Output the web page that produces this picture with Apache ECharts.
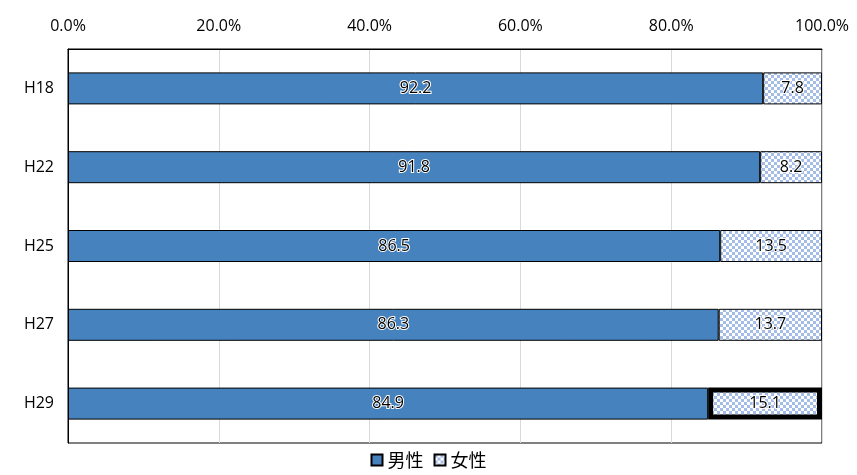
<!DOCTYPE html>
<html>
<head>
<meta charset="utf-8">
<script src="https://cdn.jsdelivr.net/npm/echarts@6/dist/echarts.min.js"></script>
<style>
html,body{margin:0;padding:0;background:#fff;}
#main{width:857px;height:475px;}
</style>
</head>
<body>
<div id="main"></div>
<script>
var years = ['H18', 'H22', 'H25', 'H27', 'H29'];
var male = [92.2, 91.8, 86.5, 86.3, 84.9];
var female = [7.8, 8.2, 13.5, 13.7, 15.1];
var xTicks = [0, 20, 40, 60, 80, 100];

// 女性の市松模様
function checker() {
	var c = document.createElement('canvas');
	c.width = 6; c.height = 6;
	var ctx = c.getContext('2d');
	ctx.fillStyle = '#ffffff';
	ctx.fillRect(0, 0, 6, 6);
	ctx.fillStyle = '#a3bde8';
	ctx.fillRect(0, 0, 3, 3);
	ctx.fillRect(3, 3, 3, 3);
	return c;
}
var pat = { image: checker(), repeat: 'repeat' };

var femaleData = female.map(function (v, i) {
	if (i == female.length - 1) {
		return { value: v, itemStyle: { borderWidth: 5, borderColor: '#000' } };
	}
	return v;
});

var lbl = {
	show: true,
	position: 'inside',
	color: '#000',
	fontSize: 16,
	fontFamily: 'Open Sans',
	textBorderColor: '#fff',
	textBorderWidth: 2,
	formatter: function (p) { return p.value.toFixed(1); }
};

var chart = echarts.init(document.getElementById('main'));
chart.setOption({
	animation: false,
	grid: { left: 68, right: 35, top: 49, bottom: 32, show: true, borderColor: '#000', borderWidth: 1 },
	legend: {
		bottom: 1,
		left: 'center',
		icon: 'rect',
		itemWidth: 11,
		itemHeight: 11,
		itemGap: 10,
		textStyle: { fontSize: 18, color: '#000', fontFamily: 'Noto Sans CJK JP' },
		data: ['男性', '女性']
	},
	xAxis: {
		type: 'value',
		position: 'top',
		min: 0, max: 100, interval: 20,
		axisLabel: {
			color: '#000', fontSize: 16, fontFamily: 'Open Sans', margin: 15,
			formatter: function (v) { return xTicks.indexOf(v) >= 0 ? v.toFixed(1) + '%' : ''; }
		},
		axisLine: { show: true, lineStyle: { color: '#000' } },
		axisTick: { show: false },
		splitLine: { lineStyle: { color: '#d9d9d9' } }
	},
	yAxis: {
		type: 'category',
		inverse: true,
		data: years,
		axisLabel: { color: '#000', fontSize: 16, fontFamily: 'Open Sans', margin: 14 },
		axisLine: { lineStyle: { color: '#000' } },
		axisTick: { show: false }
	},
	series: [
		{
			name: '男性', type: 'bar', stack: 'a', barWidth: 32,
			data: male,
			itemStyle: { color: '#4682bd', borderColor: '#000', borderWidth: 1 },
			label: lbl
		},
		{
			name: '女性', type: 'bar', stack: 'a', barWidth: 32,
			data: femaleData,
			itemStyle: { color: pat, borderColor: '#000', borderWidth: 1 },
			label: lbl
		}
	]
});
</script>
</body>
</html>
